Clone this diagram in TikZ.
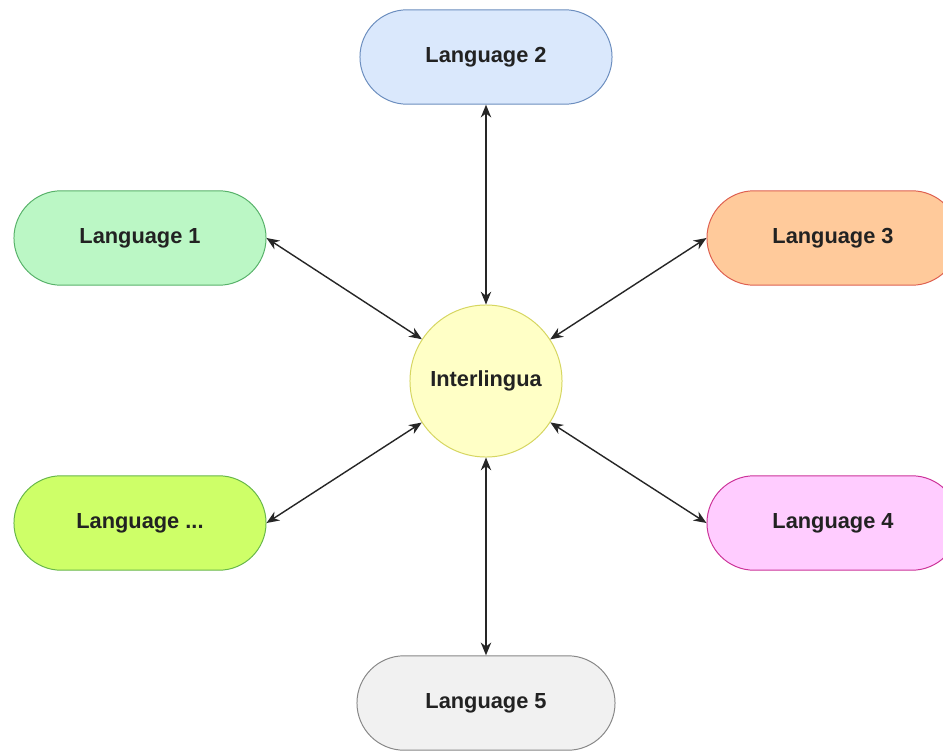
\documentclass[tikz,border=0pt]{standalone}
\usepackage{fontspec}
\setmainfont{Liberation Sans}
\usepackage{tikz}
\usetikzlibrary{arrows.meta,positioning}
\definecolor{lonefill}{RGB}{187,247,197}
\definecolor{loneline}{RGB}{88,178,106}
\definecolor{ltwofill}{RGB}{218,232,252}
\definecolor{ltwoline}{RGB}{108,142,191}
\definecolor{lthreefill}{RGB}{255,202,155}
\definecolor{lthreeline}{RGB}{222,96,80}
\definecolor{lfourfill}{RGB}{255,204,255}
\definecolor{lfourline}{RGB}{204,51,153}
\definecolor{lfivefill}{RGB}{241,241,241}
\definecolor{lfiveline}{RGB}{136,136,136}
\definecolor{lxfill}{RGB}{206,255,104}
\definecolor{lxline}{RGB}{104,184,74}
\definecolor{ilfill}{RGB}{255,255,198}
\definecolor{illine}{RGB}{214,214,96}
\definecolor{txt}{RGB}{34,34,34}
\tikzset{
  lang/.style={rectangle, rounded corners=1.18cm, minimum width=6.3cm,
               minimum height=2.36cm, line width=0.7pt, text=txt,
               font=\fontsize{15.5}{18}\selectfont\bfseries},
  ilng/.style={circle, minimum size=3.8cm, line width=0.7pt, text=txt,
               font=\fontsize{15.5}{18}\selectfont\bfseries},
  biarr/.style={{Stealth[length=3.2mm,width=2.6mm]}-{Stealth[length=3.2mm,width=2.6mm]},
                line width=1pt, black!85},
}

\begin{document}
\begin{tikzpicture}[x=0.025cm, y=-0.025cm]
    \clip (0,0) rectangle (943,751);
    \fill[white] (0,0) rectangle (943,751);
    % languages round the middle
    \node[ilng, draw=illine, fill=ilfill] (inter) at (486,381) {Interlingua};
    \node[lang, draw=ltwoline, fill=ltwofill] (l2) at (486,57) {Language 2};
    \node[lang, draw=loneline, fill=lonefill] (l1) at (140,238) {Language 1};
    \node[lang, draw=lthreeline, fill=lthreefill] (l3) at (833,238) {Language 3};
    \node[lang, draw=lxline, fill=lxfill] (lx) at (140,523) {Language ...};
    \node[lang, draw=lfourline, fill=lfourfill] (l4) at (833,523) {Language 4};
    \node[lang, draw=lfiveline, fill=lfivefill, minimum width=6.45cm] (l5) at (486,703) {Language 5};
    % connectors
    \draw[biarr] (l2) -- (inter);
    \draw[biarr] (l1.east) -- (inter);
    \draw[biarr] (l3.west) -- (inter);
    \draw[biarr] (lx.east) -- (inter);
    \draw[biarr] (l4.west) -- (inter);
    \draw[biarr] (l5) -- (inter);
\end{tikzpicture}
\end{document}
